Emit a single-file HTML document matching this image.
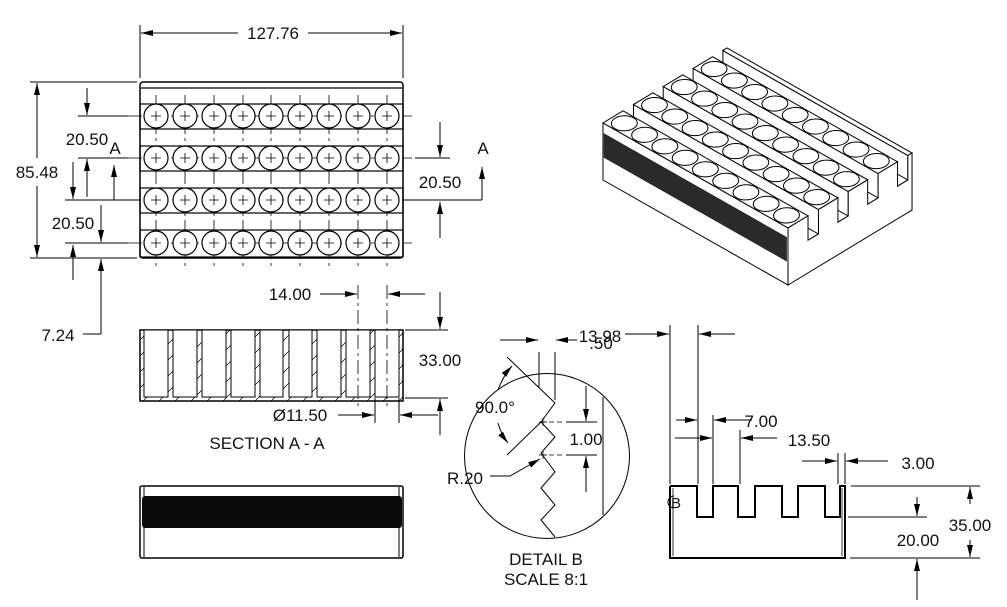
<!DOCTYPE html>
<html><head><meta charset="utf-8"><style>
html,body{margin:0;padding:0;background:#fff;}
svg{display:block;}
text{font-family:"Liberation Sans",sans-serif;font-size:17px;fill:#111;text-anchor:middle;}
</style></head><body>
<svg width="1007" height="607" viewBox="0 0 1007 607" xmlns="http://www.w3.org/2000/svg">
<defs>
<marker id="ar" viewBox="0 0 12 6" refX="12" refY="3" markerWidth="12" markerHeight="6" markerUnits="userSpaceOnUse" orient="auto"><path d="M0,0 L12,3 L0,6 z" fill="#000"/></marker>
<g id="hole"><circle cx="0" cy="0" r="12" fill="#fff" stroke="#000" stroke-width="1.2"/><path d="M-5,0H5M0,-5V5" stroke="#000" stroke-width="0.8"/></g>
<pattern id="hatch" width="16" height="16" patternUnits="userSpaceOnUse"><path d="M0,16 L16,0" stroke="#000" stroke-width="0.7"/></pattern>
<g id="ih"><circle cx="0" cy="0" r="6.3" fill="#fff" stroke="#000" stroke-width="1" vector-effect="non-scaling-stroke"/></g>
</defs>

<g stroke="#000" fill="none" stroke-width="1">
<rect x="140" y="82" width="263" height="176" rx="3" stroke-width="1.5"/>
<line x1="141" y1="88" x2="402" y2="88" stroke-width="1.2"/>
<rect x="140" y="104" width="263" height="25" stroke-width="1.2"/>
<rect x="140" y="146" width="263" height="25" stroke-width="1.2"/>
<rect x="140" y="188" width="263" height="25" stroke-width="1.2"/>
<rect x="140" y="230" width="263" height="27" stroke-width="1.2"/>
<g stroke-width="0.8" stroke-dasharray="14,4,3,4">
<line x1="128" y1="116" x2="412" y2="116"/><line x1="128" y1="158" x2="412" y2="158"/>
<line x1="128" y1="243" x2="412" y2="243"/>
<line x1="156" y1="95" x2="156" y2="266"/><line x1="185" y1="95" x2="185" y2="266"/><line x1="214" y1="95" x2="214" y2="266"/><line x1="243" y1="95" x2="243" y2="266"/><line x1="271" y1="95" x2="271" y2="266"/><line x1="300" y1="95" x2="300" y2="266"/><line x1="329" y1="95" x2="329" y2="266"/><line x1="358" y1="95" x2="358" y2="266"/><line x1="387" y1="95" x2="387" y2="266"/>
</g>
<line x1="65" y1="200" x2="140" y2="200"/><line x1="403" y1="200" x2="482" y2="200"/>
</g>
<g>
<use href="#hole" x="156" y="116"/><use href="#hole" x="185" y="116"/><use href="#hole" x="214" y="116"/><use href="#hole" x="243" y="116"/><use href="#hole" x="271" y="116"/><use href="#hole" x="300" y="116"/><use href="#hole" x="329" y="116"/><use href="#hole" x="358" y="116"/><use href="#hole" x="387" y="116"/>
<use href="#hole" x="156" y="158"/><use href="#hole" x="185" y="158"/><use href="#hole" x="214" y="158"/><use href="#hole" x="243" y="158"/><use href="#hole" x="271" y="158"/><use href="#hole" x="300" y="158"/><use href="#hole" x="329" y="158"/><use href="#hole" x="358" y="158"/><use href="#hole" x="387" y="158"/>
<use href="#hole" x="156" y="200"/><use href="#hole" x="185" y="200"/><use href="#hole" x="214" y="200"/><use href="#hole" x="243" y="200"/><use href="#hole" x="271" y="200"/><use href="#hole" x="300" y="200"/><use href="#hole" x="329" y="200"/><use href="#hole" x="358" y="200"/><use href="#hole" x="387" y="200"/>
<use href="#hole" x="156" y="243"/><use href="#hole" x="185" y="243"/><use href="#hole" x="214" y="243"/><use href="#hole" x="243" y="243"/><use href="#hole" x="271" y="243"/><use href="#hole" x="300" y="243"/><use href="#hole" x="329" y="243"/><use href="#hole" x="358" y="243"/><use href="#hole" x="387" y="243"/>
</g>

<g stroke="#000" stroke-width="1" fill="none">
<line x1="140" y1="25" x2="140" y2="78"/><line x1="403" y1="25" x2="403" y2="78"/>
<line x1="238" y1="33" x2="141" y2="33" marker-end="url(#ar)"/><line x1="308" y1="33" x2="402" y2="33" marker-end="url(#ar)"/>
<line x1="30" y1="82" x2="137" y2="82"/><line x1="30" y1="258" x2="137" y2="258"/>
<line x1="37" y1="158" x2="37" y2="83" marker-end="url(#ar)"/><line x1="37" y1="186" x2="37" y2="257" marker-end="url(#ar)"/>
<line x1="78" y1="116" x2="128" y2="116"/><line x1="78" y1="158" x2="128" y2="158"/><line x1="65" y1="243" x2="128" y2="243"/>
<line x1="87" y1="88" x2="87" y2="115" marker-end="url(#ar)"/>
<line x1="87" y1="197" x2="87" y2="159" marker-end="url(#ar)"/>
<line x1="73" y1="162" x2="73" y2="199" marker-end="url(#ar)"/>
<line x1="114" y1="200" x2="114" y2="165" marker-end="url(#ar)"/>
<line x1="101" y1="205" x2="101" y2="242" marker-end="url(#ar)"/>
<line x1="73" y1="280" x2="73" y2="245" marker-end="url(#ar)"/>
<line x1="101" y1="334" x2="101" y2="259" marker-end="url(#ar)"/>
<line x1="83" y1="334" x2="101" y2="334"/>
<line x1="415" y1="158" x2="450" y2="158"/>
<line x1="440" y1="122" x2="440" y2="157" marker-end="url(#ar)"/>
<line x1="440" y1="238" x2="440" y2="202" marker-end="url(#ar)"/>
<line x1="482" y1="200" x2="482" y2="167" marker-end="url(#ar)"/>
</g>
<text x="273" y="39">127.76</text>
<text x="37" y="178">85.48</text>
<text x="87" y="145">20.50</text><text x="115" y="154">A</text>
<text x="73" y="229">20.50</text>
<text x="58" y="341">7.24</text>
<text x="440" y="188">20.50</text>
<text x="483" y="154">A</text>

<rect x="140" y="330" width="263" height="71" fill="url(#hatch)" stroke="#000" stroke-width="1.5"/>
<g fill="#fff" stroke="#000" stroke-width="1">
<rect x="144" y="330" width="24" height="67"/><rect x="173" y="330" width="24" height="67"/><rect x="202" y="330" width="24" height="67"/><rect x="231" y="330" width="24" height="67"/><rect x="260" y="330" width="23" height="67"/><rect x="289" y="330" width="23" height="67"/><rect x="317" y="330" width="24" height="67"/><rect x="346" y="330" width="24" height="67"/><rect x="375" y="330" width="24" height="67"/>
</g>
<g stroke="#000" stroke-width="1" fill="none">
<g stroke-dasharray="14,4,3,4" stroke-width="0.8"><line x1="358" y1="285" x2="358" y2="408"/><line x1="387" y1="285" x2="387" y2="408"/></g>
<line x1="320" y1="294" x2="357" y2="294" marker-end="url(#ar)"/>
<line x1="425" y1="294" x2="388" y2="294" marker-end="url(#ar)"/>
<line x1="405" y1="330" x2="448" y2="330"/><line x1="405" y1="398" x2="448" y2="398"/>
<line x1="440" y1="292" x2="440" y2="329" marker-end="url(#ar)"/>
<line x1="440" y1="435" x2="440" y2="399" marker-end="url(#ar)"/>
<line x1="375" y1="398" x2="375" y2="423"/><line x1="399" y1="398" x2="399" y2="423"/>
<line x1="338" y1="415" x2="374" y2="415" marker-end="url(#ar)"/>
<line x1="438" y1="415" x2="400" y2="415" marker-end="url(#ar)"/>
</g>
<text x="290" y="300">14.00</text>
<text x="440" y="366">33.00</text>
<text x="300" y="421">Ø11.50</text>
<text x="267" y="449">SECTION A - A</text>

<rect x="140" y="486" width="263" height="72" rx="2" fill="none" stroke="#000" stroke-width="1.5"/>
<line x1="144" y1="487" x2="144" y2="557" stroke="#000"/><line x1="399" y1="487" x2="399" y2="557" stroke="#000"/>
<rect x="142" y="496" width="260" height="32" rx="3" fill="#0a0a0a"/>

<g stroke="#000" stroke-width="1" fill="none">
<circle cx="547" cy="456" r="82.5"/>
<polyline points="555,403 541,422 555,437 541,453 555,472 541,488 555,505 541,520 555,537"/>
<line x1="507" y1="357" x2="555" y2="403"/>
<line x1="507" y1="455" x2="541" y2="422"/>
<line x1="539" y1="352" x2="539" y2="387"/><line x1="555" y1="352" x2="555" y2="400"/>
<line x1="603" y1="397" x2="603" y2="515"/>
<line x1="500" y1="340" x2="538" y2="340" marker-end="url(#ar)"/>
<line x1="577" y1="340" x2="556" y2="340" marker-end="url(#ar)"/>
<path d="M498,390 Q503,376 512,366" marker-end="url(#ar)"/>
<path d="M498,423 Q501,434 508,443" marker-end="url(#ar)"/>
<g stroke-dasharray="5,3" stroke-width="0.8"><line x1="541" y1="422" x2="564" y2="422"/><line x1="541" y1="455" x2="564" y2="455"/></g>
<line x1="566" y1="422" x2="597" y2="422"/><line x1="566" y1="455" x2="597" y2="455"/>
<line x1="586" y1="386" x2="586" y2="421" marker-end="url(#ar)"/>
<line x1="586" y1="492" x2="586" y2="456" marker-end="url(#ar)"/>
<path d="M539,422h8M543,418v8M539,455h8M543,451v8" stroke-width="0.7"/>
<polyline points="490,476 510,476 540,459" marker-end="url(#ar)"/>
</g>
<text x="495" y="413">90.0°</text>
<text x="586" y="445">1.00</text>
<text x="465" y="484">R.20</text>
<text x="600" y="342">13.98</text>
<text x="601" y="349">.50</text>
<text x="546" y="565">DETAIL B</text>
<text x="546" y="585">SCALE 8:1</text>

<g stroke="#000" fill="none">
<polyline stroke-width="2" points="670,486 697,486 697,517 713,517 713,486 738,486 738,517 755,517 755,486 782,486 782,517 798,517 798,486 825,486 825,517 840,517 840,486 845,486 845,558 670,558 670,486"/>
<line x1="673" y1="488" x2="673" y2="556" stroke-width="0.8"/><line x1="842" y1="488" x2="842" y2="556" stroke-width="0.8"/>
<path d="M674,496 A6,6 0 1 0 674,508" stroke-width="1"/>
<g stroke-width="1">
<line x1="670" y1="325" x2="670" y2="484"/><line x1="698" y1="325" x2="698" y2="484"/>
<line x1="625" y1="334" x2="669" y2="334" marker-end="url(#ar)"/>
<line x1="735" y1="334" x2="699" y2="334" marker-end="url(#ar)"/>
<line x1="713" y1="415" x2="713" y2="484"/>
<line x1="676" y1="420" x2="697" y2="420" marker-end="url(#ar)"/>
<line x1="752" y1="420" x2="714" y2="420" marker-end="url(#ar)"/>
<line x1="675" y1="438" x2="712" y2="438" marker-end="url(#ar)"/>
<line x1="740" y1="430" x2="740" y2="484"/>
<line x1="777" y1="438" x2="741" y2="438" marker-end="url(#ar)"/>
<line x1="838" y1="453" x2="838" y2="484"/><line x1="845" y1="453" x2="845" y2="484"/>
<line x1="802" y1="461" x2="837" y2="461" marker-end="url(#ar)"/>
<line x1="888" y1="461" x2="846" y2="461" marker-end="url(#ar)"/>
<line x1="851" y1="486" x2="980" y2="486"/><line x1="850" y1="558" x2="980" y2="558"/>
<line x1="848" y1="517" x2="927" y2="517"/>
<line x1="970" y1="504" x2="970" y2="487" marker-end="url(#ar)"/>
<line x1="970" y1="540" x2="970" y2="557" marker-end="url(#ar)"/>
<line x1="917" y1="497" x2="917" y2="516" marker-end="url(#ar)"/>
<line x1="917" y1="600" x2="917" y2="559" marker-end="url(#ar)"/>
</g>
</g>
<text x="761" y="427">7.00</text>
<text x="809" y="446">13.50</text>
<text x="918" y="469">3.00</text>
<text x="970" y="531">35.00</text>
<text x="918" y="546">20.00</text>
<text x="676" y="508" style="font-size:15px">B</text>

<g stroke="#000" fill="#fff" stroke-width="1">
<g transform="matrix(1.448 0.822 1.451 -0.877 603 147.4)"><rect x="0" y="0" width="127.76" height="85.48" vector-effect="non-scaling-stroke"/></g>
<g transform="matrix(1.448 0.822 0 -1.63 722.9 107.6)"><rect x="0" y="20" width="127.76" height="15" vector-effect="non-scaling-stroke"/></g>
<g transform="matrix(1.448 0.822 1.451 -0.877 603 122.95)"><rect x="0" y="82.6" width="127.76" height="2.88" vector-effect="non-scaling-stroke"/></g>
<g transform="matrix(1.448 0.822 0 -1.63 693.1 125.5)"><rect x="0" y="20" width="127.76" height="15" vector-effect="non-scaling-stroke"/></g>
<g transform="matrix(1.448 0.822 1.451 -0.877 603 122.95)"><rect x="0" y="62.1" width="127.76" height="13.4" vector-effect="non-scaling-stroke"/>
<use href="#ih" x="7.8" y="68.8"/><use href="#ih" x="21.8" y="68.8"/><use href="#ih" x="35.8" y="68.8"/><use href="#ih" x="49.8" y="68.8"/><use href="#ih" x="63.8" y="68.8"/><use href="#ih" x="77.8" y="68.8"/><use href="#ih" x="91.8" y="68.8"/><use href="#ih" x="105.8" y="68.8"/><use href="#ih" x="119.8" y="68.8"/></g>
<g transform="matrix(1.448 0.822 0 -1.63 663.2 143.6)"><rect x="0" y="20" width="127.76" height="15" vector-effect="non-scaling-stroke"/></g>
<g transform="matrix(1.448 0.822 1.451 -0.877 603 122.95)"><rect x="0" y="41.5" width="127.76" height="13.4" vector-effect="non-scaling-stroke"/>
<use href="#ih" x="7.8" y="48.2"/><use href="#ih" x="21.8" y="48.2"/><use href="#ih" x="35.8" y="48.2"/><use href="#ih" x="49.8" y="48.2"/><use href="#ih" x="63.8" y="48.2"/><use href="#ih" x="77.8" y="48.2"/><use href="#ih" x="91.8" y="48.2"/><use href="#ih" x="105.8" y="48.2"/><use href="#ih" x="119.8" y="48.2"/></g>
<g transform="matrix(1.448 0.822 0 -1.63 633.5 161.6)"><rect x="0" y="20" width="127.76" height="15" vector-effect="non-scaling-stroke"/></g>
<g transform="matrix(1.448 0.822 1.451 -0.877 603 122.95)"><rect x="0" y="21" width="127.76" height="13.4" vector-effect="non-scaling-stroke"/>
<use href="#ih" x="7.8" y="27.7"/><use href="#ih" x="21.8" y="27.7"/><use href="#ih" x="35.8" y="27.7"/><use href="#ih" x="49.8" y="27.7"/><use href="#ih" x="63.8" y="27.7"/><use href="#ih" x="77.8" y="27.7"/><use href="#ih" x="91.8" y="27.7"/><use href="#ih" x="105.8" y="27.7"/><use href="#ih" x="119.8" y="27.7"/></g>
<g transform="matrix(1.448 0.822 0 -1.63 603 180)"><rect x="0" y="0" width="127.76" height="35" vector-effect="non-scaling-stroke"/>
<rect x="0.5" y="14" width="126.5" height="15" fill="#2a2a2a" stroke="none"/></g>
<g transform="matrix(1.448 0.822 1.451 -0.877 603 122.95)"><rect x="0" y="0" width="127.76" height="13.8" vector-effect="non-scaling-stroke"/>
<use href="#ih" x="7.8" y="6.9"/><use href="#ih" x="21.8" y="6.9"/><use href="#ih" x="35.8" y="6.9"/><use href="#ih" x="49.8" y="6.9"/><use href="#ih" x="63.8" y="6.9"/><use href="#ih" x="77.8" y="6.9"/><use href="#ih" x="91.8" y="6.9"/><use href="#ih" x="105.8" y="6.9"/><use href="#ih" x="119.8" y="6.9"/></g>
<g transform="matrix(1.451 -0.877 0 -1.63 788 285)"><polygon vector-effect="non-scaling-stroke" points="0,0 85.48,0 85.48,35 82.6,35 82.6,20 75.5,20 75.5,35 62.1,35 62.1,20 54.9,20 54.9,35 41.5,35 41.5,20 34.4,20 34.4,35 21,35 21,20 13.8,20 13.8,35 0,35"/></g>
</g>
</svg>
</body></html>
